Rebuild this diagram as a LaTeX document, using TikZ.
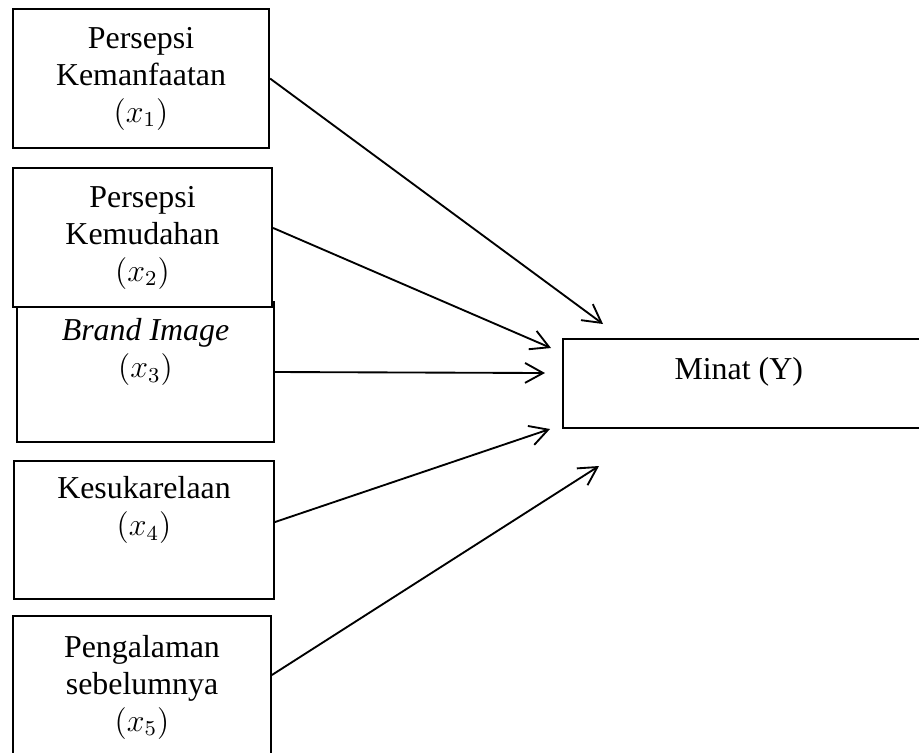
\documentclass[tikz,border=0pt]{standalone}
\usepackage{fontspec}
\setmainfont{Liberation Serif}
\usetikzlibrary{arrows.meta}
\usetikzlibrary{positioning}
\tikzset{
  box_style/.style = {
    draw, fill = white, line width = 0.7pt, align = center, inner sep = 0pt,
    font = \fontsize{12pt}{13.9pt}\selectfont  }
}

\begin{document}
\begin{tikzpicture}[x=0.01323cm, y=-0.01323cm,
out_style/.style={box_style, text height=9pt, text depth=12pt},
edge_style/.style={line width=0.7pt, -{Straight Barb[length=6.8pt,width=7.5pt]}}]
\clip (0,0) rectangle (919,752);

\node[box_style, minimum width=3.39cm, minimum height=1.84cm] (pk) at (141,78.5) {Persepsi\\Kemanfaatan\\$(x_1)$};
% brand image first, the box above hides its top line
\node[box_style, minimum width=3.40cm, minimum height=1.85cm] (bi) at (145.5,372) {\textit{Brand Image}\\$(x_3)$\\\strut};
\node[box_style, minimum width=3.43cm, minimum height=1.84cm] (pm) at (142.5,237.5) {Persepsi\\Kemudahan\\$(x_2)$};
\node[box_style, minimum width=3.44cm, minimum height=1.83cm] (ks) at (144,530) {Kesukarelaan\\$(x_4)$\\\strut};
\node[box_style, minimum width=3.41cm, minimum height=1.88cm] (ps) at (142,687) {Pengalaman\\sebelumnya\\$(x_5)$};

% right side of this box runs off the page
\node[out_style, minimum width=4.9cm, minimum height=1.18cm] (mn) at (748,383.5) {\hspace*{-7pt}Minat (Y)};

\coordinate (t1) at (603,324);
\coordinate (t2) at (551,348);
\coordinate (t3) at (545,373);
\coordinate (t4) at (550,429);
\coordinate (t5) at (599,466);

\foreach \n/\dy/\t in {pk/0/t1,pm/3.6/t2,bi/0/t3,ks/3/t4,ps/4.5/t5}{
 \draw[edge_style] ([yshift=\dy pt]\n.east) -- (\t);
}
\end{tikzpicture}
\end{document}
